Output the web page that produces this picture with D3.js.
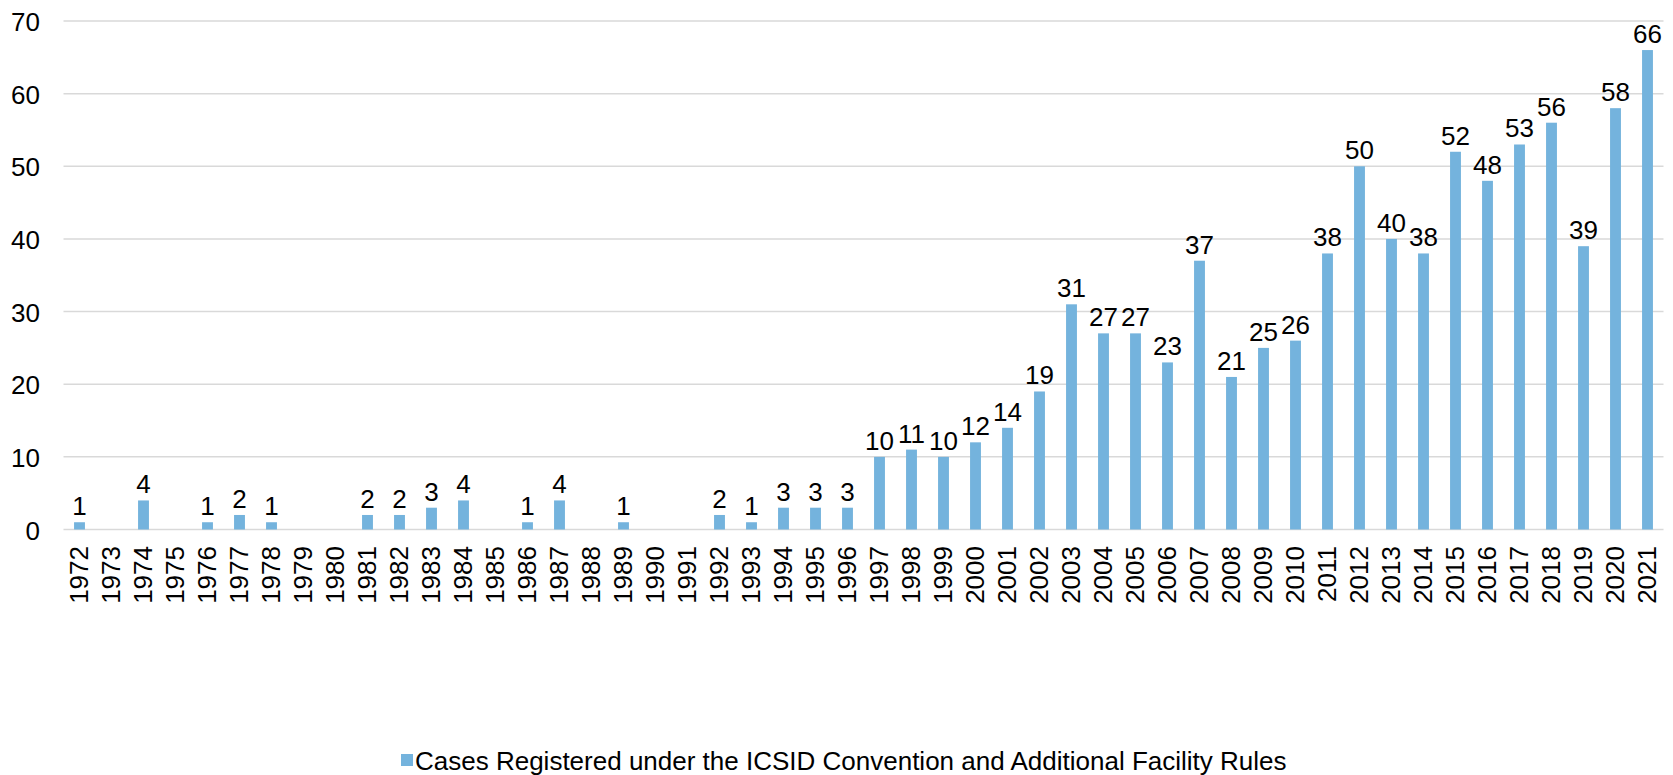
<!DOCTYPE html>
<html>
<head>
<meta charset="utf-8">
<script src="https://cdn.jsdelivr.net/npm/d3@7"></script>
<style>
  body { margin: 0; background: #fff; }
  text { font-family: "Liberation Sans", Arial, sans-serif; fill: #000; }
</style>
</head>
<body>
<svg id="chart" width="1673" height="775"></svg>
<script>
const years = ["1972","1973","1974","1975","1976","1977","1978","1979","1980","1981",
  "1982","1983","1984","1985","1986","1987","1988","1989","1990","1991",
  "1992","1993","1994","1995","1996","1997","1998","1999","2000","2001",
  "2002","2003","2004","2005","2006","2007","2008","2009","2010","2011",
  "2012","2013","2014","2015","2016","2017","2018","2019","2020","2021"];
const cases = [1,0,4,0,1,2,1,0,0,2,
  2,3,4,0,1,4,0,1,0,0,
  2,1,3,3,3,10,11,10,12,14,
  19,31,27,27,23,37,21,25,26,38,
  50,40,38,52,48,53,56,39,58,66];
const yTicks = [0,10,20,30,40,50,60,70];
const seriesName = "Cases Registered under the ICSID Convention and Additional Facility Rules";

const barColor = "#74b3dd";
const gridColor = "#d9d9d9";
const fontSize = 26;

function main(){
  const svg = d3.select('#chart');
  const data = years.map((y,i) => ({year: y, value: cases[i]}));

  const x = d3.scaleBand()
    .domain(years)
    .range([63.5, 1663.5])
    .paddingInner(0.66)
    .paddingOuter(0.33);

  const y = d3.scaleLinear()
    .domain([0, 70])
    .range([529.5, 21]);

  // gridlines
  svg.append('g')
    .selectAll('line')
    .data(yTicks)
    .join('line')
      .attr('x1', 63.5)
      .attr('x2', 1663.5)
      .attr('y1', d => y(d))
      .attr('y2', d => y(d))
      .attr('stroke', gridColor)
      .attr('stroke-width', 1.5);

  // y tick labels
  svg.append('g')
    .selectAll('text')
    .data(yTicks)
    .join('text')
      .attr('x', 40)
      .attr('y', d => y(d) + 10)
      .attr('text-anchor', 'end')
      .attr('font-size', fontSize)
      .text(d => d);

  // bars
  svg.append('g')
    .selectAll('rect')
    .data(data.filter(d => d.value > 0))
    .join('rect')
      .attr('x', d => x(d.year))
      .attr('width', x.bandwidth())
      .attr('y', d => y(d.value))
      .attr('height', d => y(0) - y(d.value))
      .attr('fill', barColor);

  // value labels
  svg.append('g')
    .selectAll('text')
    .data(data.filter(d => d.value > 0))
    .join('text')
      .attr('x', d => x(d.year) + x.bandwidth()/2)
      .attr('y', d => y(d.value) - 7)
      .attr('text-anchor', 'middle')
      .attr('font-size', fontSize)
      .text(d => d.value);

  // year labels
  svg.append('g')
    .selectAll('text')
    .data(years)
    .join('text')
      .attr('transform', d => `translate(${x(d) + x.bandwidth()/2 + 8.5},546) rotate(-90)`)
      .attr('text-anchor', 'end')
      .attr('font-size', fontSize)
      .text(d => d);

  // legend
  const legend = svg.append('g').attr('transform', 'translate(0,760)');
  legend.append('rect')
    .attr('x', 401)
    .attr('y', -6)
    .attr('width', 12)
    .attr('height', 12)
    .attr('fill', barColor);
  legend.append('text')
    .attr('x', 415)
    .attr('y', 9.5)
    .attr('font-size', 26)
    .text(seriesName);
}

window.onload = main;
</script>
</body>
</html>
